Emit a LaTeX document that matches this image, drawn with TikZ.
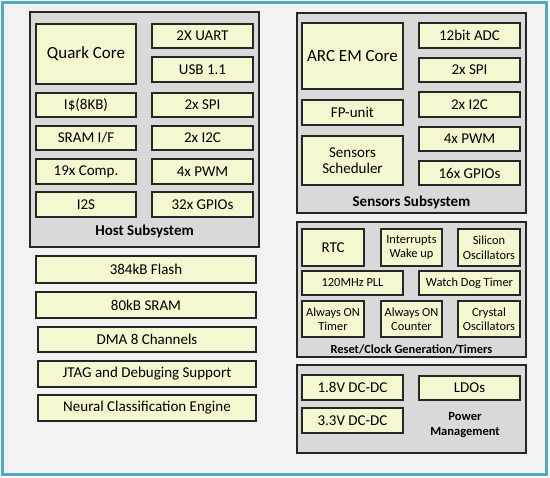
\documentclass[tikz,border=0pt]{standalone}
\usepackage{fontspec}
\setmainfont{Carlito}
\definecolor{frameblue}{RGB}{75,172,198}
\definecolor{bgpage}{RGB}{242,242,242}
\definecolor{subfill}{RGB}{217,217,217}
\definecolor{boxfill}{RGB}{245,247,208}
\definecolor{edge}{RGB}{38,38,38}
\tikzset{
  sub/.style={draw=edge, fill=subfill, line width=1.4pt, inner sep=0pt, outer sep=0pt},
  blk/.style={draw=edge, fill=boxfill, line width=1.1pt, inner sep=0pt, outer sep=0pt, align=center, font=\fontsize{15}{16}\selectfont},
  small/.style={blk, font=\fontsize{12.4}{14.5}\selectfont},
  big/.style={blk, font=\fontsize{17}{19}\selectfont},
  heavy/.style={blk, line width=1.8pt},
  lbl/.style={font=\bfseries\fontsize{15}{16}\selectfont, inner sep=0pt, align=center},
  slbl/.style={font=\bfseries\fontsize{12.4}{15}\selectfont, inner sep=0pt, align=center}
}
% name, x1, y1, x2, y2, text, style
\newcommand\bx[7]{\node[#7, minimum width={(#4-#2)*1pt}, minimum height={(#5-#3)*1pt}] (#1) at ({(#2+#4)/2},{(#3+#5)/2}) {#6};}
\begin{document}
\begin{tikzpicture}[x=1pt,y=-1pt]
\useasboundingbox (0,0) rectangle (550,478);
\fill[white] (0,0) rectangle (550,478);
\draw[frameblue, fill=bgpage, line width=2.5pt] (2.5,2.5) rectangle (546.5,474.5);

% Host subsystem
\bx{host}{30}{12}{259}{247}{}{sub}
\bx{quark}{36}{24}{136}{84}{Quark Core}{big}
\bx{huart}{152}{24}{253}{48}{2X UART}{blk}
\bx{husb}{152}{57}{253}{82}{USB 1.1}{blk}
\bx{hicache}{36}{93}{136}{117}{I\$(8KB)}{blk}
\bx{hspi}{152}{93}{253}{117}{2x SPI}{blk}
\bx{hsram}{36}{126}{136}{150}{SRAM I/F}{blk}
\bx{hi2c}{152}{126}{253}{150}{2x I2C}{blk}
\bx{hcomp}{36}{159}{136}{184}{19x Comp.}{blk}
\bx{hpwm}{152}{159}{253}{184}{4x PWM}{blk}
\bx{hi2s}{36}{192}{136}{217}{I2S}{blk}
\bx{hgpio}{152}{192}{253}{217}{32x GPIOs}{blk}
\node[lbl] (hostlbl) at (144.5,231) {Host Subsystem};

% Sensors subsystem
\bx{sens}{297}{13}{526}{213}{}{sub}
\bx{arc}{302}{23}{403}{89}{ARC EM Core}{big}
\bx{sadc}{419}{23}{520}{48}{12bit ADC}{blk}
\bx{sspi}{419}{58}{520}{82}{2x SPI}{blk}
\bx{si2c}{419}{92}{520}{117}{2x I2C}{blk}
\bx{spwm}{419}{127}{520}{151}{4x PWM}{blk}
\bx{sgpio}{419}{161}{520}{185}{16x GPIOs}{blk}
\bx{fpu}{302}{100}{403}{125}{FP-unit}{blk}
\bx{ssched}{302}{136}{403}{185}{Sensors\\Scheduler}{blk}
\node[lbl] (senslbl) at (411.5,202) {Sensors Subsystem};

% Reset/Clock
\bx{reset}{297}{222}{526}{357}{}{sub}
\bx{rtc}{302}{229}{364}{266}{RTC}{blk}
\bx{irq}{381}{229}{442}{266}{Interrupts\\Wake up}{small}
\bx{silosc}{458}{229}{520}{266}{Silicon\\Oscillators}{small}
\bx{pll}{302}{271}{403}{295}{120MHz PLL}{small}
\bx{wdt}{419}{271}{520}{295}{Watch Dog Timer}{small}
\bx{aontimer}{302}{301}{364}{337}{Always ON\\Timer}{small}
\bx{aoncnt}{381}{301}{442}{337}{Always ON\\Counter}{small}
\bx{xosc}{458}{301}{520}{337}{Crystal\\Oscillators}{small}
\node[slbl] (resetlbl) at (411.5,349) {Reset/Clock Generation/Timers};

% Power management
\bx{power}{297}{365}{526}{453}{}{sub}
\bx{dc18}{302}{375}{403}{400}{1.8V DC-DC}{blk}
\bx{dc33}{302}{408}{403}{433}{3.3V DC-DC}{blk}
\bx{ldo}{419}{376}{520}{400}{LDOs}{blk}
\node[slbl, font=\bfseries\fontsize{12.5}{14.5}\selectfont] (powlbl) at (465,425) {Power\\Management};

% Left column
\bx{flash}{36}{256}{256}{283}{384kB Flash}{blk}
\bx{sram}{36}{292}{256}{318}{80kB SRAM}{blk}
\bx{dma}{38}{327}{256}{352}{DMA 8 Channels}{blk}
\bx{jtag}{38}{361}{256}{387}{JTAG and Debuging Support}{blk}
\bx{nce}{38}{395}{256}{421}{Neural Classification Engine}{heavy}
\end{tikzpicture}
\end{document}
